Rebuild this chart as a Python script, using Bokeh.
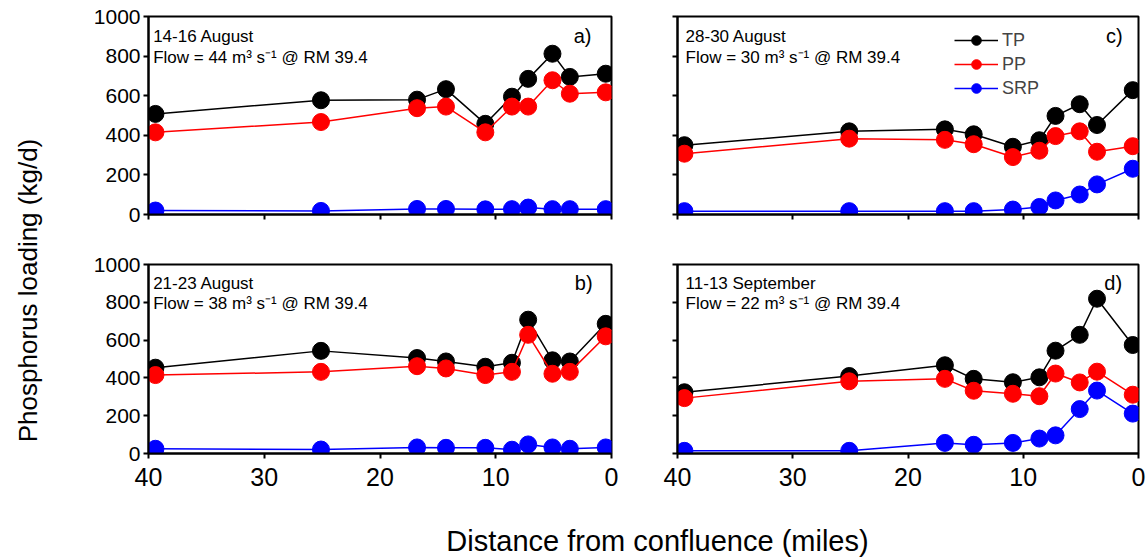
import math
from bokeh.plotting import figure
from bokeh.layouts import row, column
from bokeh.models import Range1d, Legend, LegendItem, FixedTicker, Label
from bokeh.embed import file_html
from bokeh.resources import INLINE

# ---------------- data ----------------
distance = [39.4, 25.1, 16.8, 14.3, 10.9, 8.6, 7.2, 5.1, 3.6, 0.5]

tp_a = [508, 577, 580, 633, 458, 595, 685, 812, 695, 711]
pp_a = [415, 467, 537, 545, 415, 545, 545, 678, 610, 617]
srp_a = [20, 18, 28, 28, 26, 27, 35, 27, 27, 27]

tp_b = [454, 543, 505, 487, 459, 480, 708, 493, 487, 686]
pp_b = [415, 432, 462, 450, 415, 432, 628, 422, 432, 620]
srp_b = [25, 21, 32, 30, 30, 20, 48, 32, 25, 32]

tp_c = [350, 420, 430, 405, 342, 375, 498, 557, 452, 628]
pp_c = [307, 383, 377, 355, 290, 322, 396, 420, 317, 345]
srp_c = [17, 17, 17, 17, 25, 38, 71, 101, 152, 231]

tp_d = [324, 410, 467, 395, 377, 403, 544, 628, 819, 574]
pp_d = [293, 382, 395, 332, 316, 303, 423, 376, 433, 311]
srp_d = [14, 14, 56, 46, 56, 79, 96, 235, 333, 211]

dates = ["14-16 August", "21-23 August", "28-30 August", "11-13 September"]
flows = ["Flow = 44 m\u00b3 s\u207b\u00b9 @ RM 39.4",
         "Flow = 38 m\u00b3 s\u207b\u00b9 @ RM 39.4",
         "Flow = 30 m\u00b3 s\u207b\u00b9 @ RM 39.4",
         "Flow = 22 m\u00b3 s\u207b\u00b9 @ RM 39.4"]
letters = ["a)", "b)", "c)", "d)"]
series_names = ["TP", "PP", "SRP"]
series_colors = ["black", "red", "blue"]
x_ticks = [40, 30, 20, 10, 0]
y_ticks = [0, 200, 400, 600, 800, 1000]
x_label = "Distance from confluence (miles)"
y_label = "Phosphorus loading (kg/d)"

FONT = "Liberation Sans"


def make_panel(width, height, bl, br, bt, bb, series, idx, show_x, show_y,
               text_x, letter_x, legend_loc=None):
    p = figure(width=width, height=height, x_range=Range1d(40, 0), y_range=Range1d(0, 1000),
               output_backend="svg", toolbar_location=None,
               min_border_left=bl, min_border_right=br, min_border_top=bt, min_border_bottom=bb)
    p.xgrid.visible = False
    p.ygrid.visible = False
    p.outline_line_color = "black"
    p.outline_line_width = 2
    p.outline_line_alpha = 1
    p.background_fill_color = "white"
    p.border_fill_color = "white"
    for ax in (p.xaxis[0], p.yaxis[0]):
        ax.axis_line_width = 2
        ax.axis_line_color = "black"
        ax.major_tick_line_width = 2
        ax.major_tick_line_color = "black"
        ax.major_tick_out = 5
        ax.major_tick_in = 0
        ax.minor_tick_line_color = None
        ax.major_label_text_font = FONT
        ax.major_label_text_color = "black"
    p.xaxis.ticker = FixedTicker(ticks=x_ticks)
    p.yaxis.ticker = FixedTicker(ticks=y_ticks)
    p.xaxis.major_label_text_font_size = "25px"
    p.yaxis.major_label_text_font_size = "21px"
    p.xaxis.major_label_standoff = 9
    p.yaxis.major_label_standoff = 3
    if not show_x:
        p.xaxis.major_label_overrides = {t: "" for t in x_ticks}
    if not show_y:
        p.yaxis.major_label_overrides = {t: "" for t in y_ticks}

    items = []
    for name, vals, col in zip(series_names, series, series_colors):
        ln = p.line(distance, vals, line_color=col, line_width=1.5)
        sc = p.scatter(distance, vals, size=17, fill_color=col, line_color=col)
        items.append(LegendItem(label=name, renderers=[ln, sc]))

    p.add_layout(Label(x=text_x, y=900, text=dates[idx], text_font=FONT, text_font_size="17px",
                       text_baseline="middle", text_align="left", text_color="black"))
    p.add_layout(Label(x=text_x, y=795, text=flows[idx], text_font=FONT, text_font_size="17px",
                       text_baseline="middle", text_align="left", text_color="black"))
    p.add_layout(Label(x=letter_x, y=900, text=letters[idx], text_font=FONT, text_font_size="20px",
                       text_baseline="middle", text_align="center", text_color="black"))

    if legend_loc is not None:
        leg = Legend(items=items, location=legend_loc, border_line_color=None,
                     background_fill_alpha=0, padding=0, margin=0, spacing=0,
                     glyph_width=44, glyph_height=24, label_height=24, label_standoff=4,
                     label_text_font=FONT, label_text_font_size="18px")
        p.add_layout(leg)
    return p


# left panels: frame x 148..611 ; right panels: frame x 677..1138
fa = make_panel(571, 240, 88, 20, 16, 26, [tp_a, pp_a, srp_a], 0, False, True, 39.6, 2.5)
fb = make_panel(571, 260, 88, 20, 24, 47, [tp_b, pp_b, srp_b], 1, True, True, 39.6, 2.4)
fc = make_panel(516, 240, 46, 9, 16, 26, [tp_c, pp_c, srp_c], 2, False, False, 39.3, 2.1,
                legend_loc=(277, 114))
fd = make_panel(516, 260, 46, 9, 24, 47, [tp_d, pp_d, srp_d], 3, True, False, 39.3, 2.2)

ylab = figure(width=60, height=500, x_range=Range1d(0, 60), y_range=Range1d(0, 500),
              x_axis_type=None, y_axis_type=None, output_backend="svg", toolbar_location=None,
              min_border=0)
ylab.grid.visible = False
ylab.outline_line_color = None
ylab.add_layout(Label(x=27, y=210, text=y_label, angle=math.pi / 2, text_align="center",
                      text_baseline="middle", text_font=FONT, text_font_size="26px", text_color="black"))

xlab = figure(width=1147, height=59, x_range=Range1d(0, 1147), y_range=Range1d(0, 59),
              x_axis_type=None, y_axis_type=None, output_backend="svg", toolbar_location=None,
              min_border=0)
xlab.grid.visible = False
xlab.outline_line_color = None
xlab.add_layout(Label(x=657, y=19, text=x_label, text_align="center", text_baseline="middle",
                      text_font=FONT, text_font_size="29px", text_color="black"))

layout = column(row(ylab, column(fa, fb), column(fc, fd)), xlab)

open("out.html", "w").write(file_html(layout, INLINE))
